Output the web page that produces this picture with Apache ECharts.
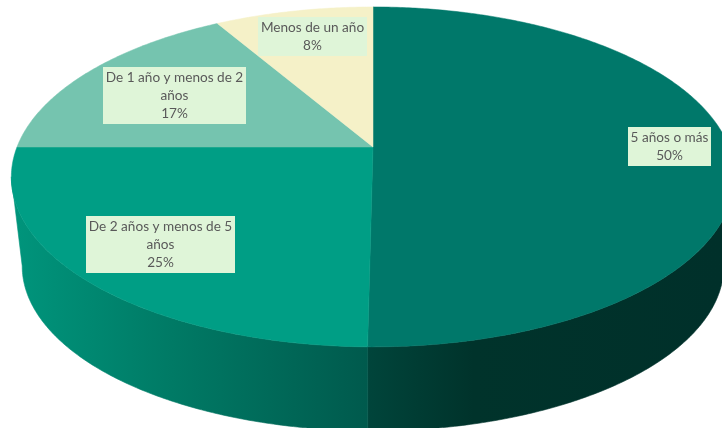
<!DOCTYPE html>
<html>
<head>
<meta charset="utf-8">
<style>html,body{margin:0;padding:0;background:#fff}#c{width:722px;height:428px}</style>
<script src="https://cdn.jsdelivr.net/npm/echarts@6/dist/echarts.min.js"></script>
</head>
<body>
<div id="c"></div>
<script>
// ---- data ----
const categories = ['5 años o más', 'De 2 años y menos de 5 años', 'De 1 año y menos de 2 años', 'Menos de un año'];
const shares = [50.2, 24.8, 16.6, 8.4];

// ---- styling ----
const topColors = ['#00786A', '#009E85', '#75C4AF', '#F5F1C8'];
const wallStops = [
  [[0, '#00453B'], [0.3, '#00332B'], [1, '#00302A']],
  [[0, '#00957C'], [0.45, '#007A65'], [1, '#005A4D']],
  null, null
];
const wallRanges = [[366, 722], [12, 367], null, null];
const labelBoxes = [
  { x: 628, y: 127, w: 83, h: 39 },
  { x: 86, y: 216, w: 149, h: 57 },
  { x: 103, y: 67, w: 143, h: 57 },
  { x: 258, y: 17, w: 109, h: 39 }
];
const wrapChars = 22;

// ---- perspective disc projection ----
const disc = { cx: 373, cy: 147, a: 356, b: 164.7, k: -0.176 };
const depth = { dy: 90, s: 0.97 };
function project(theta, bottom) {
  const u = Math.sin(theta), v = -Math.cos(theta);
  const den = 1 + disc.k * v;
  const s = bottom ? depth.s : 1;
  return [disc.cx + s * disc.a * u / den, disc.cy + (bottom ? depth.dy : 0) + s * disc.b * v / den];
}
const total = shares.reduce((p, c) => p + c, 0);
const starts = [];
shares.reduce((acc, v, i) => { starts[i] = acc; return acc + v; }, 0);
const ang = p => p / total * Math.PI * 2;

// angles of the silhouette (widest x on the rim)
let thR = 0, thL = 0, maxX = -1e9, minX = 1e9;
for (let i = 0; i < 3600; i++) {
  const t = i / 3600 * Math.PI * 2, x = project(t, false)[0];
  if (x > maxX) { maxX = x; thR = t; }
  if (x < minX) { minX = x; thL = t; }
}
function arc(a, b, bottom) {
  const n = Math.max(2, Math.ceil((b - a) / 0.01)), pts = [];
  for (let i = 0; i <= n; i++) pts.push(project(a + (b - a) * i / n, bottom));
  return pts;
}
function wrap(text) {
  const lines = [];
  let cur = '';
  text.split(' ').forEach(w => {
    const next = cur ? cur + ' ' + w : w;
    if (next.length > wrapChars) { lines.push(cur); cur = w; } else { cur = next; }
  });
  lines.push(cur);
  return lines.join('\n');
}

function renderWall(params, api) {
  const i = params.dataIndex;
  if (!wallStops[i]) return null;
  const a = Math.max(ang(starts[i]), thR), b = Math.min(ang(starts[i] + shares[i]), thL);
  if (b <= a) return null;
  const pts = arc(a, b, false).concat(arc(a, b, true).reverse()).map(p => api.coord(p));
  const r = wallRanges[i];
  const p0 = api.coord([r[0], 0]), p1 = api.coord([r[1], 0]);
  const fill = new echarts.graphic.LinearGradient(p0[0], 0, p1[0], 0,
    wallStops[i].map(s => ({ offset: s[0], color: s[1] })), true);
  return { type: 'polygon', shape: { points: pts }, style: { fill: fill, stroke: fill, lineWidth: 0.6 } };
}
function renderTop(params, api) {
  const i = params.dataIndex;
  const a = ang(starts[i]), b = ang(starts[i] + shares[i]);
  const pts = [[disc.cx, disc.cy]].concat(arc(a, b, false)).map(p => api.coord(p));
  return { type: 'polygon', shape: { points: pts }, style: { fill: topColors[i], stroke: topColors[i], lineWidth: 0.5 } };
}
function renderLabel(params, api) {
  const i = params.dataIndex, box = labelBoxes[i];
  const p = api.coord([box.x, box.y]);
  return {
    type: 'group',
    children: [
      { type: 'rect', shape: { x: p[0], y: p[1], width: box.w, height: box.h }, style: { fill: '#DFF5D8' } },
      {
        type: 'text',
        style: {
          text: wrap(categories[i]) + '\n' + Math.round(api.value(1)) + '%',
          x: p[0] + box.w / 2, y: p[1] + box.h / 2,
          align: 'center', verticalAlign: 'middle',
          font: '13.6px Lato', lineHeight: 18, fill: '#595959'
        }
      }
    ]
  };
}

const seriesData = shares.map((v, i) => [i, v]);
const chart = echarts.init(document.getElementById('c'), null, { renderer: 'canvas' });
chart.setOption({
  animation: false,
  backgroundColor: '#fff',
  grid: { left: 0, right: 0, top: 0, bottom: 0 },
  xAxis: { type: 'value', min: 0, max: 722, show: false },
  yAxis: { type: 'value', min: 0, max: 428, inverse: true, show: false },
  series: [
    { type: 'custom', z: 1, coordinateSystem: 'cartesian2d', clip: true, renderItem: renderWall, data: seriesData, encode: { x: 0, y: 1 } },
    { type: 'custom', z: 2, coordinateSystem: 'cartesian2d', clip: true, renderItem: renderTop, data: seriesData, encode: { x: 0, y: 1 } },
    { type: 'custom', z: 3, coordinateSystem: 'cartesian2d', clip: true, renderItem: renderLabel, data: seriesData, encode: { x: 0, y: 1 } }
  ]
});
</script>
</body>
</html>
